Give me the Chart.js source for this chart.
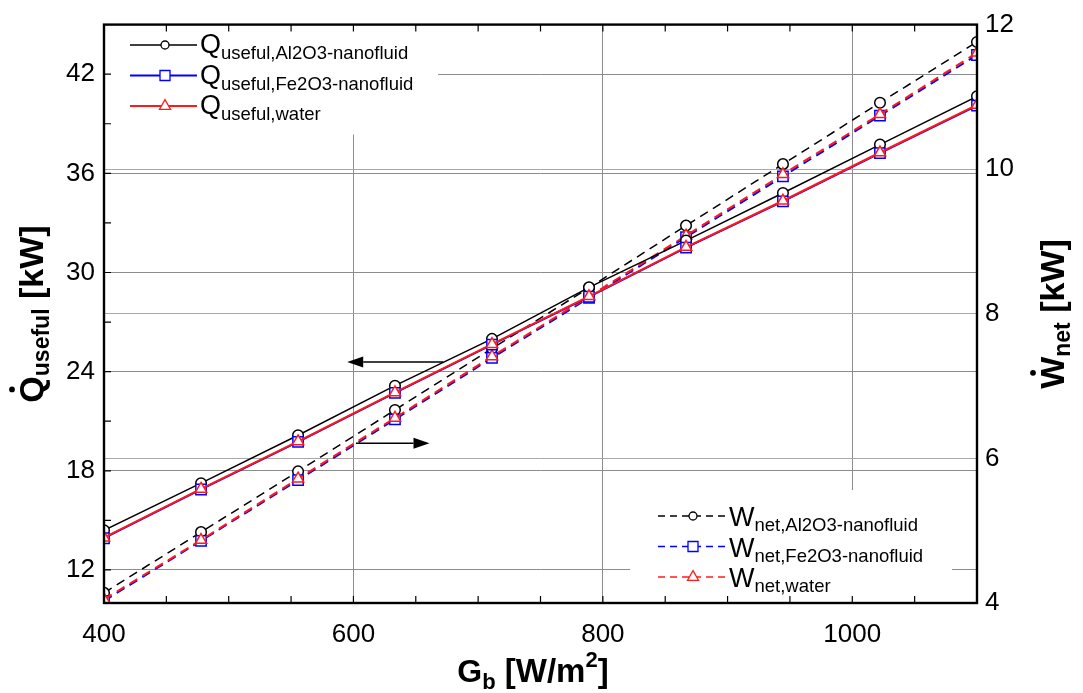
<!doctype html>
<html lang="en">
<head>
  <meta charset="UTF-8" />
  <title>Q useful and W net vs Gb</title>
  <script src="https://cdn.jsdelivr.net/npm/chart.js"></script>
  <style>
    html, body { margin: 0; padding: 0; background: #fff; }
    #wrap { width: 1083px; height: 693px; }
  </style>
</head>
<body>
  <div id="wrap"><canvas id="myChart" width="1083" height="693"></canvas></div>

  <script>
    // beam radiation G_b [W/m2]
    const gb = [400, 477.8, 555.6, 633.3, 711.1, 788.9, 866.7, 944.4, 1022.2, 1100];

    // useful heat [kW] (left axis)
    const qAl = [14.4, 17.25, 20.15, 23.15, 25.98, 29.1, 31.93, 34.81, 37.74, 40.66];
    const qFe = [13.92, 16.87, 19.75, 22.71, 25.63, 28.53, 31.5, 34.3, 37.22, 40.1];
    const qWater = [13.95, 16.9, 19.78, 22.74, 25.66, 28.56, 31.54, 34.34, 37.26, 40.14];

    // net work [kW] (right axis)
    const wAl = [4.14, 4.98, 5.82, 6.67, 7.52, 8.36, 9.22, 10.07, 10.92, 11.76];
    const wFe = [4.03, 4.86, 5.7, 6.54, 7.39, 8.22, 9.06, 9.9, 10.74, 11.58];
    const wWater = [4.05, 4.87, 5.72, 6.56, 7.41, 8.24, 9.08, 9.93, 10.76, 11.61];

    const xTicks = [400, 600, 800, 1000];
    const qTicks = [12, 18, 24, 30, 36, 42];
    const wTicks = [4, 6, 8, 10, 12];
    const xMinor = [450, 500, 550, 650, 700, 750, 850, 900, 950, 1050];
    const qMinor = [15, 21, 27, 33, 39];

    const FONT = '"Liberation Sans", Arial, sans-serif';
    const RED = "#ff1a1a";
    const BLUE = "#0000ff";
    const DASH = [9, 6];

    const pts = (ys) => gb.map((x, i) => ({ x: x, y: ys[i] }));

    function series(data, color, style, radius, axis, dashed) {
      return {
        data: pts(data),
        yAxisID: axis,
        borderColor: color,
        borderWidth: color === "#000" ? 1.5 : 2,
        borderDash: dashed ? DASH : [],
        pointStyle: style,
        pointRadius: radius,
        pointBorderWidth: 1.5,
        pointBorderColor: color,
        pointBackgroundColor: "#fff",
        tension: 0,
        clip: 0,
      };
    }

    function marker(ctx, style, x, y, r, color) {
      ctx.save();
      ctx.setLineDash([]);
      ctx.strokeStyle = color;
      ctx.lineWidth = 1.3;
      ctx.beginPath();
      if (style === "circle") ctx.arc(x, y, r, 0, Math.PI * 2);
      else if (style === "rect") ctx.rect(x - r, y - r, 2 * r, 2 * r);
      else {
        ctx.moveTo(x, y - r * 1.15);
        ctx.lineTo(x + r, y + r * 0.6);
        ctx.lineTo(x - r, y + r * 0.6);
        ctx.closePath();
      }
      ctx.fillStyle = "#fff";
      ctx.fill();
      ctx.stroke();
      ctx.restore();
    }

    // text made of runs with different sizes / offsets
    function runsWidth(ctx, runs) {
      let w = 0;
      for (const r of runs) {
        ctx.font = (r.bold ? "bold " : "") + r.size + "px " + FONT;
        w += ctx.measureText(r.t).width;
      }
      return w;
    }
    function drawRuns(ctx, runs, x, y) {
      let cx = x;
      for (const r of runs) {
        ctx.font = (r.bold ? "bold " : "") + r.size + "px " + FONT;
        ctx.fillText(r.t, cx, y + (r.dy || 0));
        cx += ctx.measureText(r.t).width;
      }
    }

    function arrow(ctx, x1, y1, x2, y2) {
      const a = Math.atan2(y2 - y1, x2 - x1);
      const hl = 16, hw = 5.5;
      ctx.save();
      ctx.strokeStyle = "#000";
      ctx.fillStyle = "#000";
      ctx.lineWidth = 1.5;
      ctx.beginPath();
      ctx.moveTo(x1, y1);
      ctx.lineTo(x2 - hl * Math.cos(a), y2 - hl * Math.sin(a));
      ctx.stroke();
      ctx.beginPath();
      ctx.moveTo(x2, y2);
      ctx.lineTo(x2 - hl * Math.cos(a) - hw * Math.sin(a), y2 - hl * Math.sin(a) + hw * Math.cos(a));
      ctx.lineTo(x2 - hl * Math.cos(a) + hw * Math.sin(a), y2 - hl * Math.sin(a) - hw * Math.cos(a));
      ctx.closePath();
      ctx.fill();
      ctx.restore();
    }

    const legendQ = [
      { sub: "useful,Al2O3-nanofluid", color: "#000", style: "circle", r: 4 },
      { sub: "useful,Fe2O3-nanofluid", color: BLUE, style: "rect", r: 5 },
      { sub: "useful,water", color: RED, style: "triangle", r: 5.5 },
    ];
    const legendW = [
      { sub: "net,Al2O3-nanofluid", color: "#000", style: "circle", r: 4 },
      { sub: "net,Fe2O3-nanofluid", color: BLUE, style: "rect", r: 5 },
      { sub: "net,water", color: RED, style: "triangle", r: 5.5 },
    ];

    const decorations = {
      id: "decorations",
      afterDraw(chart) {
        const ctx = chart.ctx;
        const a = chart.chartArea;
        const sx = chart.scales.x, sq = chart.scales.yQ, sw = chart.scales.yW;

        // legend boxes hide the grid
        ctx.save();
        ctx.fillStyle = "#fff";
        ctx.fillRect(a.left + 1, a.top + 1, 333, 109);
        ctx.fillRect(630, 490, 322, a.bottom - 491);
        ctx.restore();

        // frame and inward ticks
        ctx.save();
        ctx.strokeStyle = "#000";
        ctx.lineWidth = 1.2;
        ctx.beginPath();
        for (const v of xMinor.concat(xTicks)) {
          const px = sx.getPixelForValue(v);
          ctx.moveTo(px, a.bottom); ctx.lineTo(px, a.bottom - 7);
          ctx.moveTo(px, a.top); ctx.lineTo(px, a.top + 7);
        }
        for (const v of qMinor.concat(qTicks)) {
          const py = sq.getPixelForValue(v);
          ctx.moveTo(a.left, py); ctx.lineTo(a.left + 7, py);
        }
        ctx.stroke();
        ctx.lineWidth = 2.4;
        ctx.strokeRect(a.left, a.top, a.right - a.left, a.bottom - a.top);
        ctx.restore();

        // legends
        ctx.save();
        ctx.fillStyle = "#000";
        ctx.textBaseline = "alphabetic";
        legendQ.forEach((it, i) => {
          const y = 45 + i * 30.5;
          ctx.save();
          ctx.strokeStyle = it.color;
          ctx.lineWidth = it.color === "#000" ? 1.3 : 1.8;
          ctx.beginPath();
          ctx.moveTo(130, y); ctx.lineTo(197, y);
          ctx.stroke();
          ctx.restore();
          marker(ctx, it.style, 165, y, it.r, it.color);
          drawRuns(ctx, [{ t: "Q", size: 27 }, { t: it.sub, size: 18.5, dy: 6 }], 200, y + 8);
        });
        legendW.forEach((it, i) => {
          const y = 516 + i * 30.5;
          ctx.save();
          ctx.strokeStyle = it.color;
          ctx.lineWidth = 1.3;
          ctx.setLineDash([7, 5]);
          ctx.beginPath();
          ctx.moveTo(658, y); ctx.lineTo(727, y);
          ctx.stroke();
          ctx.restore();
          marker(ctx, it.style, 693, y, it.r, it.color);
          drawRuns(ctx, [{ t: "W", size: 27 }, { t: it.sub, size: 18.5, dy: 5 }], 729, y + 10);
        });
        ctx.restore();

        // arrows pointing to the axes
        const ly = sq.getPixelForValue(24.58);
        arrow(ctx, sx.getPixelForValue(672), ly, sx.getPixelForValue(595), ly);
        const ry = sw.getPixelForValue(6.21);
        arrow(ctx, sx.getPixelForValue(602), ry, sx.getPixelForValue(661), ry);

        // axis titles
        ctx.save();
        ctx.fillStyle = "#000";
        ctx.textBaseline = "alphabetic";
        const xt = [
          { t: "G", size: 32, bold: true },
          { t: "b", size: 22, bold: true, dy: 7 },
          { t: " [W/m", size: 33, bold: true },
          { t: "2", size: 22, bold: true, dy: -15 },
          { t: "]", size: 33, bold: true },
        ];
        drawRuns(ctx, xt, 533 - runsWidth(ctx, xt) / 2, 682);

        const yl = [
          { t: "Q", size: 34, bold: true },
          { t: "useful", size: 23, bold: true, dy: 6 },
          { t: " [kW]", size: 34, bold: true },
        ];
        ctx.save();
        ctx.translate(43, 314);
        ctx.rotate(-Math.PI / 2);
        let w = runsWidth(ctx, yl);
        drawRuns(ctx, yl, -w / 2, 0);
        ctx.font = "bold 34px " + FONT;
        let qw = ctx.measureText("Q").width;
        ctx.beginPath();
        ctx.arc(-w / 2 + qw / 2, -31, 2.9, 0, Math.PI * 2);
        ctx.fill();
        ctx.restore();

        const yr = [
          { t: "W", size: 34, bold: true },
          { t: "net", size: 23, bold: true, dy: 6 },
          { t: " [kW]", size: 34, bold: true },
        ];
        ctx.save();
        ctx.translate(1064, 314);
        ctx.rotate(-Math.PI / 2);
        w = runsWidth(ctx, yr);
        drawRuns(ctx, yr, -w / 2, 0);
        ctx.font = "bold 34px " + FONT;
        qw = ctx.measureText("W").width;
        ctx.beginPath();
        ctx.arc(-w / 2 + qw / 2, -31, 2.9, 0, Math.PI * 2);
        ctx.fill();
        ctx.restore();
        ctx.restore();
      },
    };

    const tickFont = { family: FONT, size: 26 };
    const ctxEl = document.getElementById("myChart");

    new Chart(ctxEl, {
      type: "line",
      data: {
        datasets: [
          series(qWater, RED, "triangle", 6.5, "yQ", false),
          series(qFe, BLUE, "rect", 7.3, "yQ", false),
          series(qAl, "#000", "circle", 5.3, "yQ", false),
          series(wWater, RED, "triangle", 6.5, "yW", true),
          series(wFe, BLUE, "rect", 7.3, "yW", true),
          series(wAl, "#000", "circle", 5.3, "yW", true),
        ],
      },
      options: {
        responsive: false,
        animation: false,
        devicePixelRatio: 1,
        layout: { padding: { top: 21, left: 0, right: 0, bottom: 0 } },
        plugins: { legend: { display: false }, tooltip: { enabled: false } },
        scales: {
          x: {
            type: "linear",
            min: 400,
            max: 1100,
            afterBuildTicks: (s) => { s.ticks = xTicks.map((v) => ({ value: v })); },
            afterFit: (s) => { s.height = 90; },
            grid: { color: "#8c8c8c", lineWidth: 1, drawTicks: false },
            border: { display: false },
            ticks: { font: tickFont, color: "#000", padding: 16, maxRotation: 0, callback: (v) => String(v) },
          },
          yQ: {
            type: "linear",
            position: "left",
            min: 10,
            max: 45,
            afterBuildTicks: (s) => { s.ticks = qTicks.map((v) => ({ value: v })); },
            afterFit: (s) => { s.width = 104; },
            grid: { color: "#8c8c8c", lineWidth: 1, drawTicks: false },
            border: { display: false },
            ticks: { font: tickFont, color: "#000", padding: 9, callback: (v) => String(v) },
          },
          yW: {
            type: "linear",
            position: "right",
            min: 4,
            max: 12,
            afterBuildTicks: (s) => { s.ticks = wTicks.map((v) => ({ value: v })); },
            afterFit: (s) => { s.width = 106; },
            grid: { color: "#a8a8a8", lineWidth: 1, drawTicks: false },
            border: { display: false },
            ticks: { font: tickFont, color: "#000", padding: 8, callback: (v) => String(v) },
          },
        },
      },
      plugins: [decorations],
    });
  </script>
</body>
</html>
